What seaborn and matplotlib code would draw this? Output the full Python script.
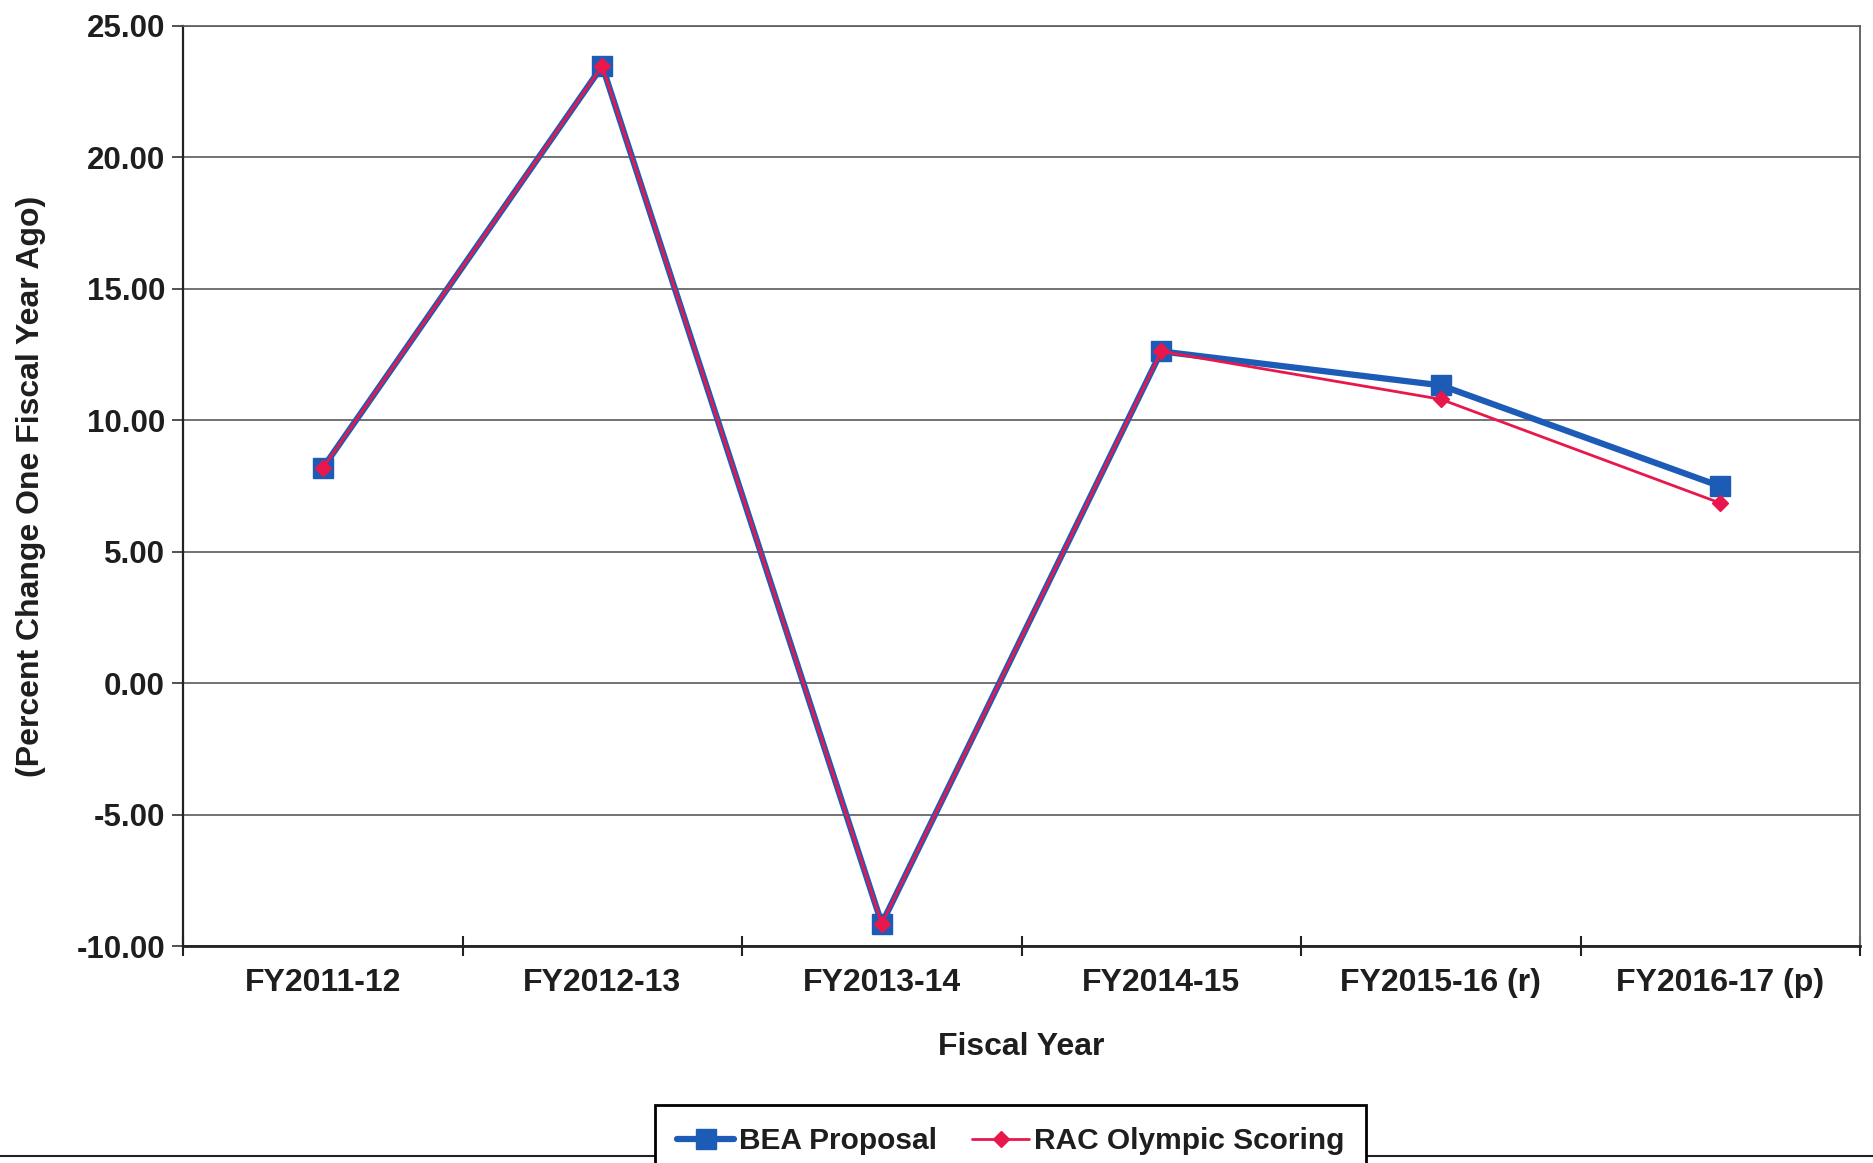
import matplotlib
matplotlib.use("Agg")
import matplotlib.pyplot as plt
from matplotlib.lines import Line2D
from matplotlib.ticker import FixedLocator, FormatStrFormatter
import pandas as pd
import seaborn as sns

# Percent change one fiscal year ago
fiscal_years = ["FY2011-12", "FY2012-13", "FY2013-14", "FY2014-15",
                "FY2015-16 (r)", "FY2016-17 (p)"]
bea_proposal = [8.18, 23.48, -9.15, 12.62, 11.33, 7.49]
rac_olympic = [8.18, 23.48, -9.15, 12.62, 10.80, 6.85]
y_ticks = [-10, -5, 0, 5, 10, 15, 20, 25]

BLUE = "#1c5cb6"
RED = "#e8184c"
TEXT = "#1e1e1e"

sns.set_theme(style="white")
plt.rcParams["font.family"] = ["Liberation Sans", "DejaVu Sans"]
plt.rcParams["font.weight"] = "bold"
plt.rcParams["axes.labelweight"] = "bold"

bea_df = pd.DataFrame({"Fiscal Year": fiscal_years, "value": bea_proposal})
rac_df = pd.DataFrame({"Fiscal Year": fiscal_years, "value": rac_olympic})

fig = plt.figure(figsize=(18.73, 11.63), dpi=100)
ax = fig.add_axes([0.0977, 0.1865, 0.8954, 0.7912])

sns.lineplot(data=bea_df, x="Fiscal Year", y="value", ax=ax, sort=False,
             color=BLUE, linewidth=4.5, marker="s", markersize=14,
             markeredgecolor=BLUE, markeredgewidth=1, label="BEA Proposal",
             zorder=3)
sns.lineplot(data=rac_df, x="Fiscal Year", y="value", ax=ax, sort=False,
             color=RED, linewidth=2, marker="D", markersize=8,
             markeredgecolor=RED, markeredgewidth=1,
             label="RAC Olympic Scoring", zorder=4)

ax.set_xlim(-0.5, 5.5)
ax.set_ylim(-10, 25)

# category labels at centres, tick marks at category boundaries
ax.set_xticks(range(len(fiscal_years)))
ax.set_xticklabels(fiscal_years)
ax.xaxis.set_minor_locator(FixedLocator([i - 0.5 for i in range(len(fiscal_years) + 1)]))
ax.tick_params(axis="x", which="major", length=0, pad=16, labelsize=23,
               labelcolor=TEXT)
ax.tick_params(axis="x", which="minor", bottom=True, direction="inout",
               length=15, width=1.5, color="#222222")

ax.set_yticks(y_ticks)
ax.yaxis.set_major_formatter(FormatStrFormatter("%.2f"))
ax.tick_params(axis="y", which="major", left=True, direction="out", length=8,
               width=1.2, color="#333333", pad=5, labelsize=22.5,
               labelcolor=TEXT)

ax.grid(axis="y", color="#5a5a5a", linewidth=1.2)
ax.grid(axis="x", visible=False)

for side, col, lw in [("left", "#222222", 1.6), ("bottom", "#222222", 2.0),
                      ("right", "#666666", 1.4), ("top", "#5a5a5a", 1.2)]:
    ax.spines[side].set_visible(True)
    ax.spines[side].set_color(col)
    ax.spines[side].set_linewidth(lw)

ax.set_xlabel("Fiscal Year", fontsize=23, color=TEXT, labelpad=24)
ax.set_ylabel("(Percent Change One Fiscal Year Ago)", fontsize=23,
              color=TEXT, labelpad=22)

handles, labels = ax.get_legend_handles_labels()
ax.get_legend().remove()
leg = fig.legend(handles, labels, loc="upper left",
                 bbox_to_anchor=(655 / 1873, 1 - 1105 / 1163), ncol=2,
                 frameon=True, fancybox=False, edgecolor="black",
                 framealpha=1, fontsize=21.5, handlelength=1.9,
                 handletextpad=0.15, columnspacing=1.2, borderpad=0.75,
                 borderaxespad=0)
leg.get_frame().set_linewidth(2)
for t in leg.get_texts():
    t.set_color(TEXT)

# page rule along the bottom edge
fig.add_artist(Line2D([0, 1], [0.006, 0.006], transform=fig.transFigure,
                      color="#222222", linewidth=1.5, zorder=1))

fig.savefig("out.png", dpi=100)
